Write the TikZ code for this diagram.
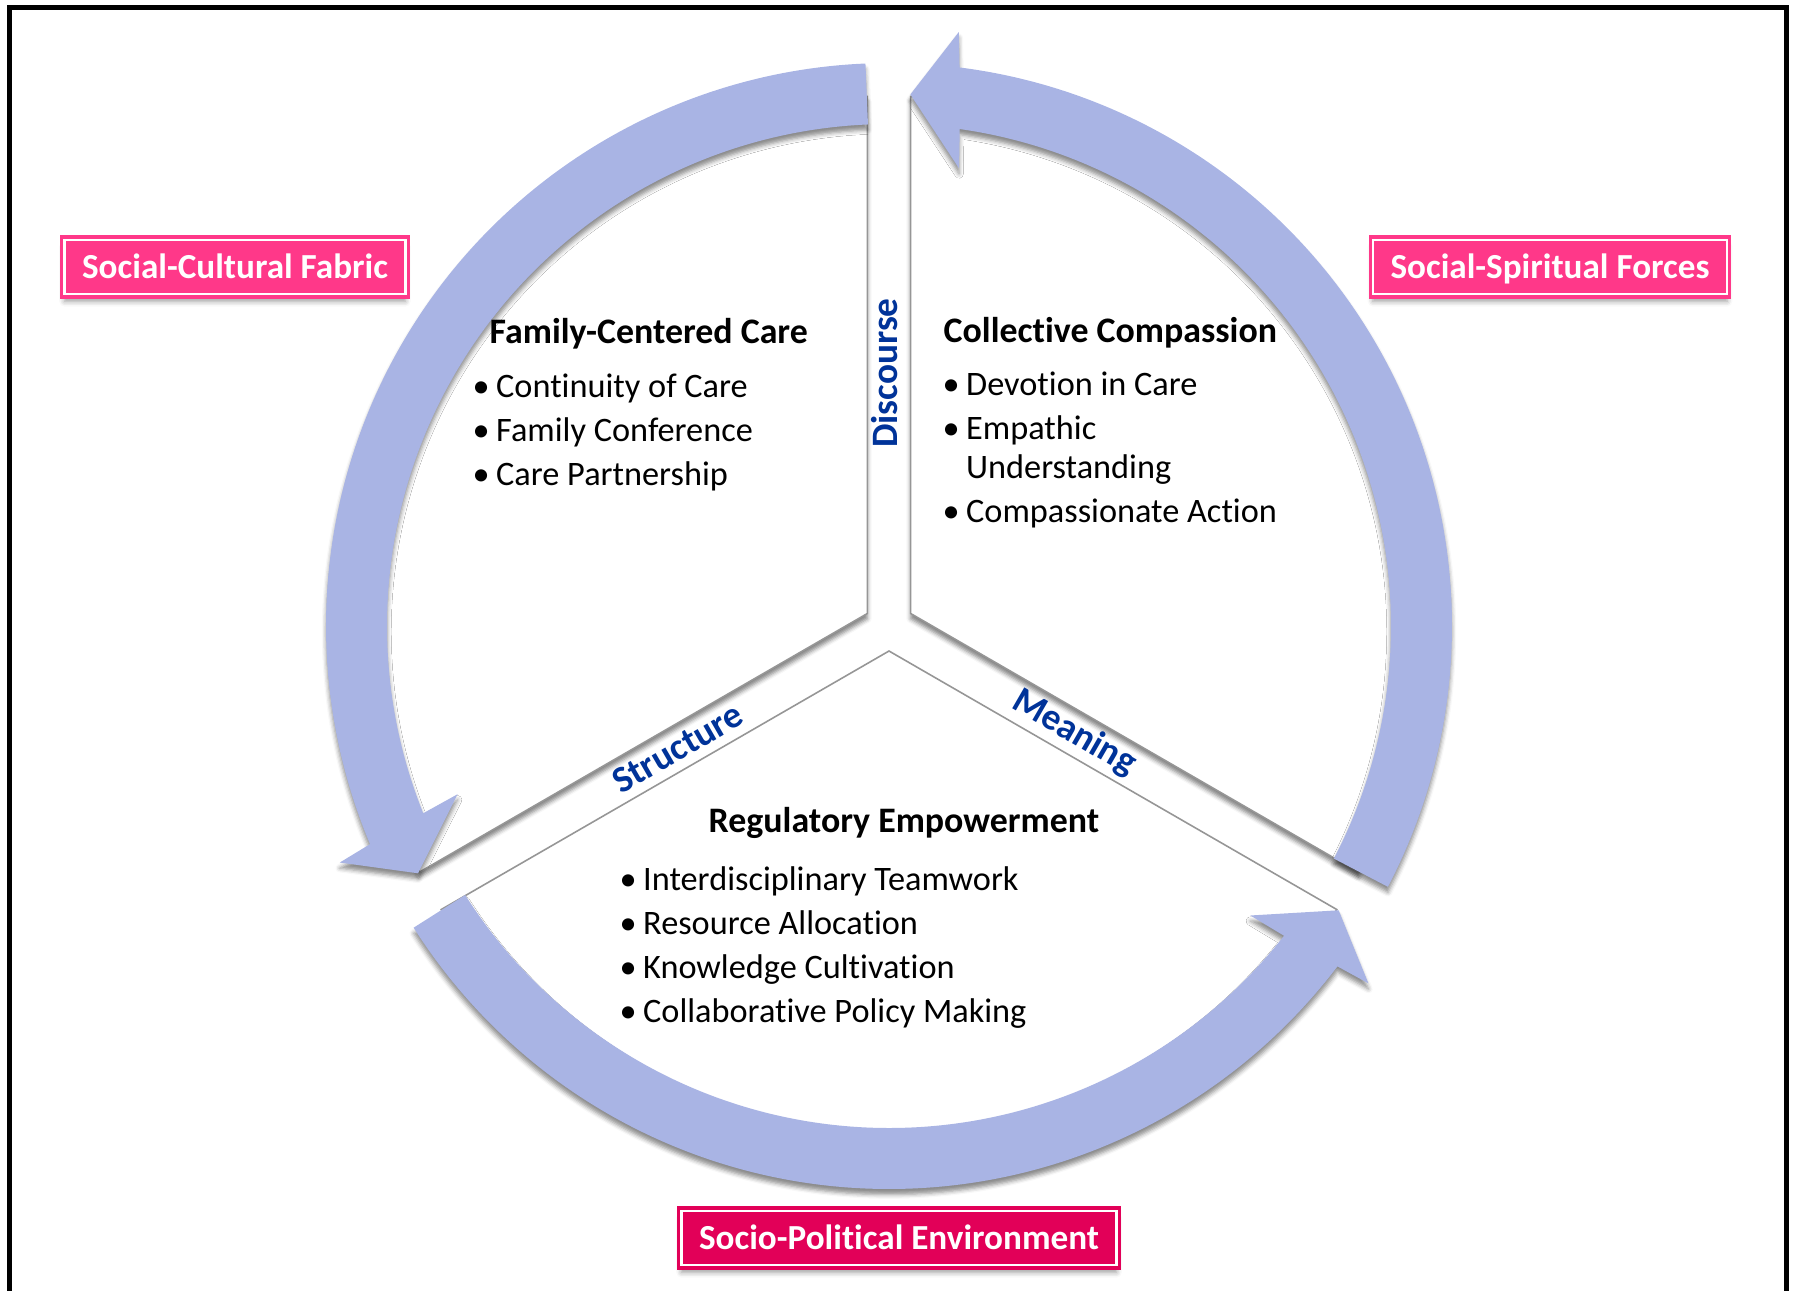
\documentclass[tikz,border=0pt]{standalone}
\usepackage{fontspec}
\setmainfont{Carlito}[Ligatures=NoCommon]
\usetikzlibrary{shadows.blur}
\definecolor{arcblue}{RGB}{169,180,228}
\definecolor{forcepink}{RGB}{255,56,137}
\definecolor{forcered}{RGB}{226,0,88}
\definecolor{axisblue}{RGB}{0,51,153}
\definecolor{edgegray}{RGB}{150,150,150}
\newcommand{\itm}{\makebox[0.235cm][l]{\textbullet}}
\newcommand{\itmgap}{\hspace*{0.235cm}}

\begin{document}
\begin{tikzpicture}[x=0.01cm, y=0.01cm,
    sector/.style={fill=white, draw=edgegray, line width=0.45pt,
        blur shadow={shadow xshift=0pt, shadow yshift=-1.5pt, shadow blur radius=1.2pt, shadow opacity=50}},
    arcarrow/.style={fill=arcblue,
        blur shadow={shadow xshift=0pt, shadow yshift=-1.6pt, shadow blur radius=1.2pt, shadow opacity=45}},
    head/.style={anchor=base west, inner sep=0pt, font=\bfseries\fontsize{10.2}{12}\selectfont},
    items/.style={anchor=base west, inner sep=0pt, align=left, font=\fontsize{9.75}{10.9}\selectfont},
    axislabel/.style={text=axisblue, inner sep=0pt, font=\bfseries\fontsize{10.6}{12}\selectfont},
    force/.style={fill=#1, draw=#1, double=white, line width=0.9pt, double distance=0.6pt,
        text=white, font=\bfseries\fontsize{10}{12}\selectfont,
        inner xsep=5pt, minimum height=0.546cm, text height=0.64em, text depth=0pt,
        blur shadow={shadow xshift=0pt, shadow yshift=-2pt, shadow blur radius=1.5pt, shadow opacity=40}}
]
    \useasboundingbox (-889,626) rectangle (906,-664);

    % the three parts of the circle
    \foreach \a in {0,120,240}{
        \draw[sector] ({150+\a}:25) -- ({92.34+\a}:530)
            arc[start angle=92.34+\a, end angle=207.66+\a, radius=530] -- cycle;
    }

    % curved arrows round the circle
    \foreach \a in {0,120,240}{
        \fill[arcarrow] ({92.4+\a}:563) arc[start angle=92.4+\a, end angle=202.8+\a, radius=563]
            -- ({203.3+\a}:598) -- ({207.7+\a}:532) -- ({201.3+\a}:463) -- ({201.9+\a}:502)
            arc[start angle=201.9+\a, end angle=92.4+\a, radius=502] -- cycle;
    }

    % contents of the three parts (lists sit on their last line)
    \node[head] (fcc-head) at (-400,283) {Family-Centered Care};
    \node[items] (fcc-list) at (-417,141) {\itm Continuity of Care\\[1.6pt]\itm Family Conference\\[1.6pt]\itm Care Partnership};

    \node[head] (cc-head) at (54,284) {Collective Compassion};
    \node[items] (cc-list) at (53,104) {\itm Devotion in Care\\[1.6pt]\itm Empathic\\\itmgap Understanding\\[1.6pt]\itm Compassionate Action};

    \node[head] (re-head) at (-181,-206) {Regulatory Empowerment};
    \node[items] (re-list) at (-270,-396) {\itm Interdisciplinary Teamwork\\[1.6pt]\itm Resource Allocation\\[1.6pt]\itm Knowledge Cultivation\\[1.6pt]\itm Collaborative Policy Making};

    % labels in the gaps
    \node[axislabel, rotate=90] (discourse) at (-4,253) {Discourse};
    \node[axislabel, rotate=30] (structure) at (210:244) {Structure};
    \node[axislabel, rotate=-30] (meaning) at (330:214) {Meaning};

    % outer forces
    \node[force=forcepink] (cultural) at (-654,359) {Social-Cultural Fabric};
    \node[force=forcepink] (spiritual) at (661,359) {Social-Spiritual Forces};
    \node[force=forcered] (political) at (10,-612) {Socio-Political Environment};

    \draw[line width=1.3pt] (-879.5,-700) -- (-879.5,618.5) -- (897.3,618.5) -- (897.3,-700);
\end{tikzpicture}
\end{document}
